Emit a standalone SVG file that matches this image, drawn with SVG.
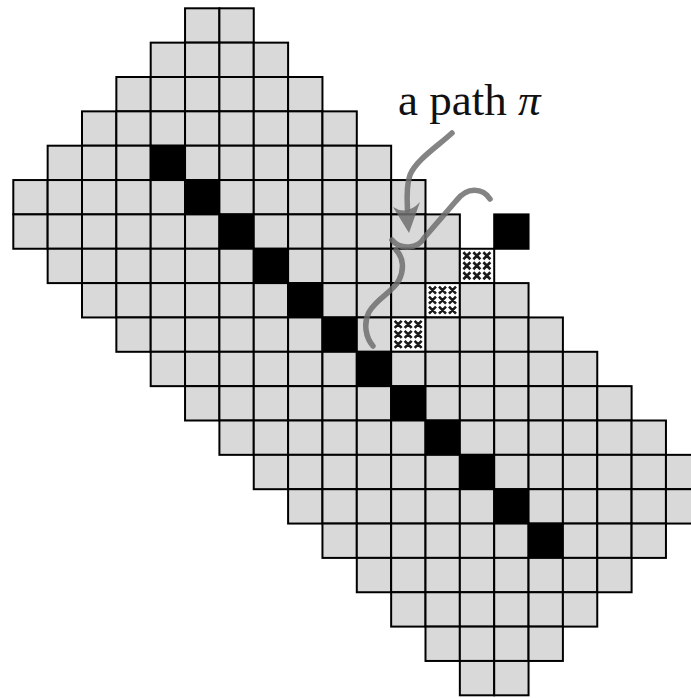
<svg xmlns="http://www.w3.org/2000/svg" xmlns:xlink="http://www.w3.org/1999/xlink" width="691" height="698" viewBox="0 0 691 698">
<style>
.cells use{stroke:#000;stroke-width:2}
.g{fill:#d9d9d9}
.k{fill:#000}
.w{fill:#fff}
.xm{fill:none;stroke:#1a1a1a;stroke-width:2.6;stroke-linecap:butt}
.p{fill:none;stroke:#6e6e6e;stroke-opacity:.85;stroke-width:5.5;stroke-linecap:round;stroke-linejoin:round}
.ph{fill:#6e6e6e;fill-opacity:.85}
.lbl{font-family:"Liberation Serif","Times New Roman",serif;font-size:45px;fill:#111}
</style>
<defs>
<rect id="c" width="34.35" height="34.35"/>
<path id="xx" class="xm" d="M3.5 3.5l7 7m0-7l-7 7M13.5 3.5l7 7m0-7l-7 7M23.5 3.5l7 7m0-7l-7 7M3.5 13.5l7 7m0-7l-7 7M13.5 13.5l7 7m0-7l-7 7M23.5 13.5l7 7m0-7l-7 7M3.5 23.5l7 7m0-7l-7 7M13.5 23.5l7 7m0-7l-7 7M23.5 23.5l7 7m0-7l-7 7"/>
</defs>
<g id="grid" class="cells">
<g id="row0" class="g" transform="translate(0,8.3)"><use href="#c" x="185.05"/><use href="#c" x="219.4"/></g>
<g id="row1" class="g" transform="translate(0,42.65)"><use href="#c" x="150.7"/><use href="#c" x="185.05"/><use href="#c" x="219.4"/><use href="#c" x="253.75"/></g>
<g id="row2" class="g" transform="translate(0,77)"><use href="#c" x="116.35"/><use href="#c" x="150.7"/><use href="#c" x="185.05"/><use href="#c" x="219.4"/><use href="#c" x="253.75"/><use href="#c" x="288.1"/></g>
<g id="row3" class="g" transform="translate(0,111.35)"><use href="#c" x="82"/><use href="#c" x="116.35"/><use href="#c" x="150.7"/><use href="#c" x="185.05"/><use href="#c" x="219.4"/><use href="#c" x="253.75"/><use href="#c" x="288.1"/><use href="#c" x="322.45"/></g>
<g id="row4" class="g" transform="translate(0,145.7)"><use href="#c" x="47.65"/><use href="#c" x="82"/><use href="#c" x="116.35"/><use href="#c" x="150.7" class="k"/><use href="#c" x="185.05"/><use href="#c" x="219.4"/><use href="#c" x="253.75"/><use href="#c" x="288.1"/><use href="#c" x="322.45"/><use href="#c" x="356.8"/></g>
<g id="row5" class="g" transform="translate(0,180.05)"><use href="#c" x="13.3"/><use href="#c" x="47.65"/><use href="#c" x="82"/><use href="#c" x="116.35"/><use href="#c" x="150.7"/><use href="#c" x="185.05" class="k"/><use href="#c" x="219.4"/><use href="#c" x="253.75"/><use href="#c" x="288.1"/><use href="#c" x="322.45"/><use href="#c" x="356.8"/><use href="#c" x="391.15"/></g>
<g id="row6" class="g" transform="translate(0,214.4)"><use href="#c" x="13.3"/><use href="#c" x="47.65"/><use href="#c" x="82"/><use href="#c" x="116.35"/><use href="#c" x="150.7"/><use href="#c" x="185.05"/><use href="#c" x="219.4" class="k"/><use href="#c" x="253.75"/><use href="#c" x="288.1"/><use href="#c" x="322.45"/><use href="#c" x="356.8"/><use href="#c" x="391.15"/><use href="#c" x="425.5"/><use href="#c" x="494.2" class="k"/></g>
<g id="row7" class="g" transform="translate(0,248.75)"><use href="#c" x="47.65"/><use href="#c" x="82"/><use href="#c" x="116.35"/><use href="#c" x="150.7"/><use href="#c" x="185.05"/><use href="#c" x="219.4"/><use href="#c" x="253.75" class="k"/><use href="#c" x="288.1"/><use href="#c" x="322.45"/><use href="#c" x="356.8"/><use href="#c" x="391.15"/><use href="#c" x="425.5"/><use href="#c" x="459.85" class="w"/></g>
<g id="row8" class="g" transform="translate(0,283.1)"><use href="#c" x="82"/><use href="#c" x="116.35"/><use href="#c" x="150.7"/><use href="#c" x="185.05"/><use href="#c" x="219.4"/><use href="#c" x="253.75"/><use href="#c" x="288.1" class="k"/><use href="#c" x="322.45"/><use href="#c" x="356.8"/><use href="#c" x="391.15"/><use href="#c" x="425.5" class="w"/><use href="#c" x="459.85"/><use href="#c" x="494.2"/></g>
<g id="row9" class="g" transform="translate(0,317.45)"><use href="#c" x="116.35"/><use href="#c" x="150.7"/><use href="#c" x="185.05"/><use href="#c" x="219.4"/><use href="#c" x="253.75"/><use href="#c" x="288.1"/><use href="#c" x="322.45" class="k"/><use href="#c" x="356.8"/><use href="#c" x="391.15" class="w"/><use href="#c" x="425.5"/><use href="#c" x="459.85"/><use href="#c" x="494.2"/><use href="#c" x="528.55"/></g>
<g id="row10" class="g" transform="translate(0,351.8)"><use href="#c" x="150.7"/><use href="#c" x="185.05"/><use href="#c" x="219.4"/><use href="#c" x="253.75"/><use href="#c" x="288.1"/><use href="#c" x="322.45"/><use href="#c" x="356.8" class="k"/><use href="#c" x="391.15"/><use href="#c" x="425.5"/><use href="#c" x="459.85"/><use href="#c" x="494.2"/><use href="#c" x="528.55"/><use href="#c" x="562.9"/></g>
<g id="row11" class="g" transform="translate(0,386.15)"><use href="#c" x="185.05"/><use href="#c" x="219.4"/><use href="#c" x="253.75"/><use href="#c" x="288.1"/><use href="#c" x="322.45"/><use href="#c" x="356.8"/><use href="#c" x="391.15" class="k"/><use href="#c" x="425.5"/><use href="#c" x="459.85"/><use href="#c" x="494.2"/><use href="#c" x="528.55"/><use href="#c" x="562.9"/><use href="#c" x="597.25"/></g>
<g id="row12" class="g" transform="translate(0,420.5)"><use href="#c" x="219.4"/><use href="#c" x="253.75"/><use href="#c" x="288.1"/><use href="#c" x="322.45"/><use href="#c" x="356.8"/><use href="#c" x="391.15"/><use href="#c" x="425.5" class="k"/><use href="#c" x="459.85"/><use href="#c" x="494.2"/><use href="#c" x="528.55"/><use href="#c" x="562.9"/><use href="#c" x="597.25"/><use href="#c" x="631.6"/></g>
<g id="row13" class="g" transform="translate(0,454.85)"><use href="#c" x="253.75"/><use href="#c" x="288.1"/><use href="#c" x="322.45"/><use href="#c" x="356.8"/><use href="#c" x="391.15"/><use href="#c" x="425.5"/><use href="#c" x="459.85" class="k"/><use href="#c" x="494.2"/><use href="#c" x="528.55"/><use href="#c" x="562.9"/><use href="#c" x="597.25"/><use href="#c" x="631.6"/><use href="#c" x="665.95"/></g>
<g id="row14" class="g" transform="translate(0,489.2)"><use href="#c" x="288.1"/><use href="#c" x="322.45"/><use href="#c" x="356.8"/><use href="#c" x="391.15"/><use href="#c" x="425.5"/><use href="#c" x="459.85"/><use href="#c" x="494.2" class="k"/><use href="#c" x="528.55"/><use href="#c" x="562.9"/><use href="#c" x="597.25"/><use href="#c" x="631.6"/><use href="#c" x="665.95"/></g>
<g id="row15" class="g" transform="translate(0,523.55)"><use href="#c" x="322.45"/><use href="#c" x="356.8"/><use href="#c" x="391.15"/><use href="#c" x="425.5"/><use href="#c" x="459.85"/><use href="#c" x="494.2"/><use href="#c" x="528.55" class="k"/><use href="#c" x="562.9"/><use href="#c" x="597.25"/><use href="#c" x="631.6"/></g>
<g id="row16" class="g" transform="translate(0,557.9)"><use href="#c" x="356.8"/><use href="#c" x="391.15"/><use href="#c" x="425.5"/><use href="#c" x="459.85"/><use href="#c" x="494.2"/><use href="#c" x="528.55"/><use href="#c" x="562.9"/><use href="#c" x="597.25"/></g>
<g id="row17" class="g" transform="translate(0,592.25)"><use href="#c" x="391.15"/><use href="#c" x="425.5"/><use href="#c" x="459.85"/><use href="#c" x="494.2"/><use href="#c" x="528.55"/><use href="#c" x="562.9"/></g>
<g id="row18" class="g" transform="translate(0,626.6)"><use href="#c" x="425.5"/><use href="#c" x="459.85"/><use href="#c" x="494.2"/><use href="#c" x="528.55"/></g>
<g id="row19" class="g" transform="translate(0,660.95)"><use href="#c" x="459.85"/><use href="#c" x="494.2"/></g>
</g>
<g id="crosses">
<use href="#xx" x="459.85" y="248.75"/>
<use href="#xx" x="425.5" y="283.1"/>
<use href="#xx" x="391.15" y="317.45"/>
</g>
<g id="connectors">
<path class="p" d="M452 133C438 146 416 160 410 175C406 186 407 200 407.5 210"/>
<path class="ph" d="M409 233L393 207Q407 216 420 202Z"/>
<path id="path-pi" class="p" d="M490 199C483 188 467 186 456 201L424 238C418 249 400 250 392 240M396 250C404 258 404 270 399 280C393 292 377 298 369 312C363 324 366 338 373 346"/>
</g>
<g id="label">
<text class="lbl" x="398" y="114.5">a path <tspan font-style="italic">π</tspan></text>
</g>
</svg>
